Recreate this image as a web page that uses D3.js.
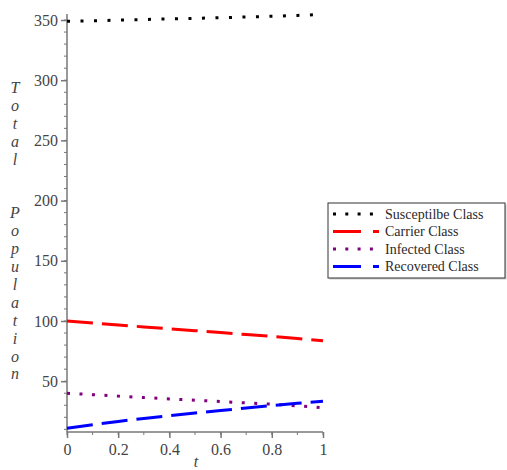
<!DOCTYPE html>
<html>
<head>
<meta charset="utf-8">
<script src="https://cdn.jsdelivr.net/npm/d3@7"></script>
<style>
  body { margin: 0; background: #fff; }
  svg text { font-family: "Liberation Serif", "Times New Roman", serif; }
</style>
</head>
<body>
<div id="chart"></div>
<script>
// data
const tValues = [0, 0.1, 0.2, 0.3, 0.4, 0.5, 0.6, 0.7, 0.8, 0.9, 1]
const susceptible = [349, 349.4, 349.9, 350.4, 350.9, 351.4, 351.9, 352.5, 353.1, 353.8, 354.6]
const carrier = [100, 98.4, 96.7, 95.1, 93.5, 92, 90.4, 88.8, 87.2, 85.4, 83.6]
const infected = [40, 38.8, 37.6, 36.4, 35.3, 34.2, 33.1, 32, 30.9, 29.5, 28]
const recovered = [11, 13.9, 16.6, 19.1, 21.4, 23.6, 25.7, 27.7, 29.7, 31.6, 33.4]
const seriesNames = ["Susceptilbe Class", "Carrier Class", "Infected Class", "Recovered Class"]
const xTicks = [0, 0.2, 0.4, 0.6, 0.8, 1]
const yTicks = [50, 100, 150, 200, 250, 300, 350]
const yLabelText = "Total  Population"

const WIDTH = 507, HEIGHT = 470
const MARGIN = { LEFT: 67, RIGHT: 184, TOP: 14, BOTTOM: 38 }

const svg = d3.select("#chart").append("svg")
  .attr("width", WIDTH)
  .attr("height", HEIGHT)

const x = d3.scaleLinear().domain([0, 1]).range([MARGIN.LEFT, WIDTH - MARGIN.RIGHT])
const y = d3.scaleLinear().domain([7.8, 355]).range([HEIGHT - MARGIN.BOTTOM, MARGIN.TOP])

const axisColor = "#777"
const labelColor = "#444"

// minor ticks
const xMinor = d3.range(0, 1.0001, 0.1)
const yMinor = d3.range(10, 355, 10)
svg.append("g").selectAll("line").data(xMinor).join("line")
  .attr("x1", d => x(d)).attr("x2", d => x(d))
  .attr("y1", y.range()[0]).attr("y2", y.range()[0] + 3)
  .attr("stroke", axisColor)
svg.append("g").selectAll("line").data(yMinor).join("line")
  .attr("x1", x.range()[0] - 3).attr("x2", x.range()[0])
  .attr("y1", d => y(d)).attr("y2", d => y(d))
  .attr("stroke", axisColor)

// axes
const xAxis = svg.append("g")
  .attr("transform", `translate(0, ${y.range()[0]})`)
  .call(d3.axisBottom(x).tickValues(xTicks).tickSize(6).tickFormat(d => d === 0 || d === 1 ? d3.format("d")(d) : d3.format(".1f")(d)))
const yAxis = svg.append("g")
  .attr("transform", `translate(${x.range()[0]}, 0)`)
  .call(d3.axisLeft(y).tickValues(yTicks).tickSize(6).tickSizeOuter(0))
xAxis.select(".domain").attr("d", `M${x.range()[0]},0H${x.range()[1]}`)
yAxis.select(".domain").attr("d", `M0,${y.range()[0]}V${y.range()[1]}`)
;[xAxis, yAxis].forEach(a => {
  a.selectAll(".domain, line").attr("stroke", axisColor).attr("stroke-width", 1.5)
  a.selectAll("text").attr("fill", labelColor).attr("font-size", 16)
    .attr("font-family", "Liberation Serif, serif")
})
xAxis.selectAll("text").attr("dy", "0.9em")

// axis titles
svg.append("text")
  .attr("x", 196)
  .attr("y", 467)
  .attr("text-anchor", "middle")
  .attr("font-style", "italic")
  .attr("font-size", 16)
  .attr("fill", labelColor)
  .text("t")

svg.append("g").selectAll("text").data(yLabelText.split("")).join("text")
  .attr("x", 15)
  .attr("y", (d, i) => 93 + i * 17.9)
  .attr("text-anchor", "middle")
  .attr("font-style", "italic")
  .attr("font-size", 16)
  .attr("fill", labelColor)
  .text(d => d)

// lines
const styles = [
  { data: susceptible, color: "#000", dash: "3 10.5" },
  { data: carrier, color: "#f00", dash: "26 9" },
  { data: infected, color: "#800080", dash: "3 9.5" },
  { data: recovered, color: "#00f", dash: "26 9" }
]
const line = d3.line()
  .x((d, i) => x(tValues[i]))
  .y(d => y(d))

svg.append("g").selectAll("path").data(styles).join("path")
  .attr("d", d => line(d.data))
  .attr("fill", "none")
  .attr("stroke", d => d.color)
  .attr("stroke-width", 3)
  .attr("stroke-dasharray", d => d.dash)

// legend
const legend = svg.append("g").attr("transform", "translate(328, 203)")
legend.append("rect")
  .attr("x", 1.5).attr("y", 1.5)
  .attr("width", 177).attr("height", 75)
  .attr("fill", "#ccc")
legend.append("rect")
  .attr("width", 177).attr("height", 75)
  .attr("fill", "#fff")
  .attr("stroke", "#333")
  .attr("stroke-width", 1)
const legendItem = legend.selectAll(".item").data(styles).join("g")
  .attr("class", "item")
  .attr("transform", (d, i) => `translate(0, ${11 + i * 17.5})`)
legendItem.append("line")
  .attr("x1", 5).attr("x2", 51)
  .attr("stroke", d => d.color)
  .attr("stroke-width", 3)
  .attr("stroke-dasharray", (d, i) => i % 2 === 0 ? "3 9.3" : "28 12")
legendItem.append("text")
  .attr("x", 57)
  .attr("dy", "0.35em")
  .attr("font-size", 14)
  .attr("fill", "#2a2a2a")
  .text((d, i) => seriesNames[i])
</script>
</body>
</html>
